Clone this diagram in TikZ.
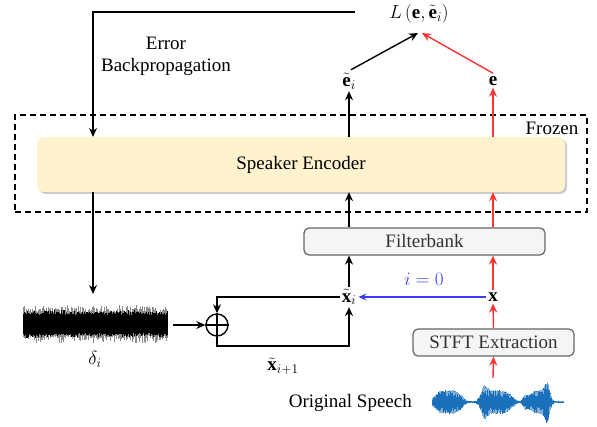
\documentclass[tikz,border=0pt]{standalone}
\usepackage{fix-cm}
\usepackage{fontspec}
\setmainfont{Liberation Serif}
\usetikzlibrary{arrows.meta,shadows,calc}
\definecolor{encfill}{HTML}{FFF2CC}
\definecolor{boxfill}{HTML}{F5F5F5}
\definecolor{boxline}{HTML}{666666}
\definecolor{redarr}{HTML}{FF3333}
\definecolor{bluearr}{HTML}{3B3BFF}
\definecolor{speech}{HTML}{1A70BA}
\begin{document}
\begin{tikzpicture}[x=1pt,y=-1pt,font=\fontsize{19}{23}\selectfont,
  arr/.style={line width=1.4pt,-{Stealth[length=9pt,width=8pt,inset=3pt]}},
  redarrow/.style={arr,draw=redarr,-{Stealth[length=9pt,width=8pt,inset=3pt,fill=redarr]}},
  bluearrow/.style={line width=1.1pt,draw=bluearr,-{Stealth[length=8pt,width=7pt,inset=3pt,fill=bluearr]}},
  encbox/.style={rectangle,rounded corners=7pt,fill=encfill,minimum width=528pt,minimum height=55pt,inner sep=0pt,
    drop shadow={shadow xshift=2pt,shadow yshift=-2pt,fill=black!35,opacity=0.6}},
  graybox/.style={rectangle,rounded corners=5pt,fill=boxfill,draw=boxline,line width=1.2pt,minimum height=27pt,inner sep=0pt,text=black!80},
  frame/.style={draw,line width=1.3pt,dash pattern=on 6pt off 4pt,minimum width=572pt,minimum height=97pt,inner sep=0pt},
  lbl/.style={inner sep=2pt}]
\useasboundingbox (0,0) rectangle (597,427);

% frozen frame and encoder
\node[frame] (frozen) at (301,163.5) {};
\node[lbl] (frozenlbl) at (552,128) {Frozen};
\node[encbox] (enc) at (301,164.5) {Speaker Encoder};

% boxes
\node[graybox,minimum width=241pt] (fb) at (424.5,241.5) {Filterbank};
\node[graybox,minimum width=161pt] (stft) at (493.5,342.5) {STFT Extraction};

% math labels
\node[lbl] (L) at (419,14) {$L\left(\mathbf{e},\tilde{\mathbf{e}}_i\right)$};
\node[lbl] (et) at (349,81) {$\tilde{\mathbf{e}}_i$};
\node[lbl] (e) at (493,81) {$\mathbf{e}$};
\node[lbl] (xt) at (349,297) {$\tilde{\mathbf{x}}_i$};
\node[lbl] (x) at (493,297) {$\mathbf{x}$};
\node[lbl,text=bluearr] (izero) at (424,279) {$i=0$};
\node[lbl] (xtn) at (283,366) {$\tilde{\mathbf{x}}_{i+1}$};
\node[lbl] (delta) at (95,359) {$\delta_i$};
\node[lbl,anchor=east] (orig) at (414,403) {Original Speech};
\node[lbl,align=center] (err) at (166,56) {Error\\[-1pt]Backpropagation};

% plus circle
\node[circle,draw,line width=1.4pt,minimum size=22pt,inner sep=0pt] (plus) at (217,325) {};
\draw[line width=1.4pt] (plus.north) -- (plus.south) (plus.west) -- (plus.east);

% noise
\pgfmathsetseed{11}
\foreach \k in {0,...,360} {
  \pgfmathsetmacro\xx{23+\k*0.4}
  \pgfmathsetmacro\aa{11+9*rnd*rnd}
  \pgfmathsetmacro\bb{11+9*rnd*rnd}
  \draw[black!45,line width=0.35pt] (\xx,324-\aa) -- (\xx,324+\bb);
}
\foreach \k in {0,...,360} {
  \pgfmathsetmacro\xx{23+\k*0.4}
  \pgfmathsetmacro\aa{9+5*rnd*rnd}
  \pgfmathsetmacro\bb{9+5*rnd*rnd}
  \draw[black,line width=0.4pt] (\xx,324-\aa) -- (\xx,324+\bb);
}
\coordinate (noisetop) at (93,294);
\coordinate (noiseR) at (173,325);

% speech waveform
\pgfmathsetseed{5}
\foreach \k in {0,...,327} {
  \pgfmathsetmacro\xx{432+\k*0.4}
  \pgfmathsetmacro\ua{min(((\xx-448)/15)^2,20)}
  \pgfmathsetmacro\ub{min(((\xx-484)/4)^2,20)}
  \pgfmathsetmacro\uc{min(((\xx-497)/16)^2,20)}
  \pgfmathsetmacro\ud{min(((\xx-525)/3)^2,20)}
  \pgfmathsetmacro\ue{min(((\xx-539)/11)^2,20)}
  \pgfmathsetmacro\uf{min(((\xx-547)/3)^2,20)}
  \pgfmathsetmacro\amp{0.8+11*exp(-min(\ua*\ua,20))+9*exp(-\ub)+11*exp(-min(\uc*\uc,20))+6*exp(-\ud)+11*exp(-min(\ue*\ue,20))+12*exp(-\uf)}
  \pgfmathsetmacro\aa{\amp*(0.45+0.55*rnd)}
  \pgfmathsetmacro\bb{\amp*(0.45+0.55*rnd)}
  \pgfmathsetmacro\cc{\amp*(0.8+0.2*rnd)}
  \draw[speech!55,line width=0.45pt] (\xx,402-\cc) -- (\xx,402+\cc);
  \draw[speech,line width=0.5pt] (\xx,402-\aa) -- (\xx,402+\bb);
}
\coordinate (speechtop) at (493,378);

% top feedback loop
\coordinate (lend) at (355,12);
\coordinate (bptip) at (93,137);
\draw[arr] (lend) -| (bptip);
\draw[arr] (enc.south -| noisetop) -- (noisetop);
\draw[arr] (noiseR) -- (plus.west);
\draw[arr] (xt.west) -| (plus.north);
\coordinate (lb) at (349,346);
\draw[arr] (plus.south) |- (lb) -- (xt.south);

% black chain
\draw[arr] (xt.north) -- (xt.north |- fb.south);
\draw[arr] (xt |- fb.north) -- (xt |- enc.south);
\draw[arr] (xt |- enc.north) -- (et.south);
\coordinate (Lin1) at (418,33);
\coordinate (Lin2) at (422,33);
\draw[arr] ($(et.north)+(2,-1)$) -- (Lin1);

% red chain
\draw[redarrow] (speechtop) -- (stft.south);
\draw[redarrow] (stft.north) -- (x.south);
\draw[redarrow] (x.north) -- (x.north |- fb.south);
\draw[redarrow] (x |- fb.north) -- (x |- enc.south);
\draw[redarrow] (x |- enc.north) -- (e.south);
\draw[redarrow] ($(e.north)+(0,-1)$) -- (Lin2);

% blue init arrow
\draw[bluearrow] (x.west) -- (xt.east);
\end{tikzpicture}
\end{document}
